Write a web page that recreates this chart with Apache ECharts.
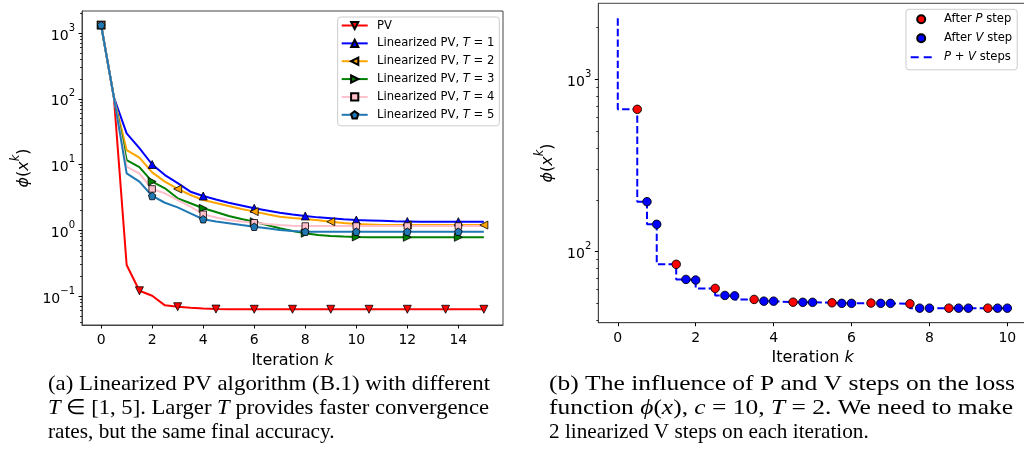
<!DOCTYPE html>
<html><head><meta charset="utf-8">
<script src="https://cdn.jsdelivr.net/npm/echarts@6/dist/echarts.min.js"></script>
<style>html,body{margin:0;padding:0;background:#fff}#c{width:1024px;height:459px}</style>
</head><body><div id="c"></div>
<script>
// ---------- data: left panel (iteration k, half steps) ----------
const iterations = [0,0.5,1,1.5,2,2.5,3,3.5,4,4.5,5,5.5,6,6.5,7,7.5,8,8.5,9,9.5,10,10.5,11,11.5,12,12.5,13,13.5,14,14.5,15];
const pvLoss = [1320,105,0.296,0.12,0.101,0.072,0.0687,0.0664,0.0645,0.0632,0.0628,0.0628,0.0628,0.0628,0.0628,0.0628,0.0628,0.0628,0.0628,0.0628,0.0628,0.0628,0.0628,0.0628,0.0628,0.0628,0.0628,0.0628,0.0628,0.0628,0.0628];
const linT1 = [1320,105,29.8,17.8,10.0,6.9,5.2,3.86,3.32,2.94,2.62,2.38,2.16,2.0,1.85,1.74,1.65,1.57,1.52,1.47,1.43,1.41,1.39,1.37,1.36,1.35,1.35,1.35,1.35,1.35,1.35];
const linT2 = [1320,105,16.6,12.7,7.6,5.5,4.25,3.44,2.88,2.6,2.34,2.1,1.92,1.75,1.61,1.54,1.48,1.42,1.35,1.29,1.24,1.22,1.2,1.2,1.2,1.2,1.2,1.2,1.2,1.2,1.2];
const linT3 = [1320,105,11.7,9.1,5.5,4.35,3.06,2.57,2.16,1.9,1.65,1.48,1.35,1.2,1.07,0.975,0.9,0.85,0.82,0.8,0.79,0.785,0.78,0.78,0.78,0.78,0.78,0.78,0.78,0.78,0.78];
const linT4 = [1320,105,9.27,7.3,4.25,3.65,2.88,2.28,1.75,1.56,1.43,1.36,1.30,1.24,1.2,1.17,1.16,1.16,1.16,1.16,1.16,1.16,1.16,1.16,1.16,1.16,1.16,1.16,1.16,1.16,1.16];
const linT5 = [1320,105,7.35,5.48,3.32,2.62,2.23,1.81,1.47,1.36,1.28,1.2,1.13,1.07,1.01,0.975,0.95,0.95,0.95,0.95,0.95,0.95,0.95,0.95,0.95,0.95,0.95,0.95,0.95,0.95,0.95];
const leftXTicks = [0,2,4,6,8,10,12,14];
const leftYTicks = [0.1,1,10,100,1000];
const leftYMinor = [0.04,0.05,0.06,0.07,0.08,0.09,0.2,0.3,0.4,0.5,0.6,0.7,0.8,0.9,2,3,4,5,6,7,8,9,20,30,40,50,60,70,80,90,200,300,400,500,600,700,800,900,2000];

// ---------- data: right panel ----------
const startX = 0, startLoss = 2270;
const pStepX = [0.5,1.5,2.5,3.5,4.5,5.5,6.5,7.5,8.5,9.5];
const pStepLoss = [671,84.3,61.1,52.7,50.8,50.4,50.2,49.7,46.9,46.9];
const vStep1X = [0.75,1.75,2.75,3.75,4.75,5.75,6.75,7.75,8.75,9.75];
const vStep1Loss = [195,68.9,55.6,51.5,50.7,50.0,50.0,46.9,46.9,46.9];
const vStep2X = [1,2,3,4,5,6,7,8,9,10];
const vStep2Loss = [144,68.3,55.3,51.5,50.7,50.0,50.0,46.9,46.9,46.9];
const rightXTicks = [0,2,4,6,8,10];
const rightYTicks = [100,1000];
const rightYMinor = [40,50,60,70,80,90,200,300,400,500,600,700,800,900,2000];

// ---------- styling ----------
const FONT = 'DejaVu Sans';
const PENT = 'path://M0,-1L0.951,-0.309L0.588,0.809L-0.588,0.809L-0.951,-0.309Z';
const leftDefs = [
  {name:'PV', data:pvLoss, color:'#ff0000', symbol:'triangle', rot:180, every:3, size:8},
  {name:'Linearized PV, T = 1', data:linT1, color:'#0000ff', symbol:'triangle', rot:0, every:4, size:8},
  {name:'Linearized PV, T = 2', data:linT2, color:'#ffa500', symbol:'triangle', rot:90, every:6, size:8},
  {name:'Linearized PV, T = 3', data:linT3, color:'#008000', symbol:'triangle', rot:-90, every:4, size:8},
  {name:'Linearized PV, T = 4', data:linT4, color:'#ffc0cb', symbol:'rect', rot:0, every:4, size:6.5},
  {name:'Linearized PV, T = 5', data:linT5, color:'#1f77b4', symbol:PENT, rot:0, every:4, size:7.5}
];

function supLabel(v){
  const e = Math.round(Math.log10(v));
  return '{b|10}{s|' + (e < 0 ? '\u2212' + (-e) : e) + '}';
}
const supRich = {
  b:{fontSize:14, lineHeight:20, verticalAlign:'bottom', fontFamily:FONT, color:'#000'},
  s:{fontSize:10, lineHeight:10, verticalAlign:'top', fontFamily:FONT, color:'#000'}
};
const nameRichY = {
  a:{fontSize:16, lineHeight:22, verticalAlign:'bottom', fontFamily:FONT, color:'#000'},
  i:{fontSize:16, lineHeight:22, verticalAlign:'bottom', fontFamily:FONT, fontStyle:'italic', color:'#000'},
  s:{fontSize:11.5, lineHeight:11, verticalAlign:'top', fontFamily:FONT, fontStyle:'italic', color:'#000'}
};
const nameRichX = {
  n:{fontSize:16, fontFamily:FONT, color:'#000'},
  i:{fontSize:16, fontFamily:FONT, fontStyle:'italic', color:'#000'}
};
const SPINE = '#444';

function xAxisDef(grid, min, max, ticks){
  return {
    type:'value', gridIndex:grid, min:min, max:max,
    name:'{n|Iteration }{i|k}', nameLocation:'middle', nameGap:27,
    nameTextStyle:{rich:nameRichX},
    axisLine:{show:true, onZero:false, lineStyle:{color:SPINE, width:1}},
    axisTick:{show:true, length:3.5, lineStyle:{color:'#000', width:1}, customValues:ticks},
    axisLabel:{show:true, fontSize:14, fontFamily:FONT, color:'#000', margin:8.5, customValues:ticks},
    splitLine:{show:false}
  };
}
function yAxisMajor(grid, min, max, ticks, gap){
  return {
    type:'log', logBase:10, gridIndex:grid, position:'left', min:min, max:max,
    name:'{i|\u03d5}{a|(}{i|x}{s|k}{a|)}', nameLocation:'middle', nameGap:gap, nameRotate:90,
    nameTextStyle:{rich:nameRichY},
    axisLine:{show:true, onZero:false, lineStyle:{color:SPINE, width:1}},
    axisTick:{show:true, length:3.5, lineStyle:{color:'#000', width:1}, customValues:ticks},
    axisLabel:{show:true, margin:7, formatter:supLabel, rich:supRich, customValues:ticks},
    splitLine:{show:false}
  };
}
function yAxisMinor(grid, min, max, ticks){
  return {
    type:'log', logBase:10, gridIndex:grid, position:'left', offset:0, min:min, max:max,
    axisLine:{show:false, onZero:false},
    axisTick:{show:true, length:2, lineStyle:{color:'#000', width:0.8}, customValues:ticks},
    axisLabel:{show:false, customValues:ticks},
    splitLine:{show:false}
  };
}

const series = [];
leftDefs.forEach(d => {
  series.push({
    type:'line', name:d.name, xAxisIndex:0, yAxisIndex:0,
    data: iterations.map((x,i) => i % d.every === 0 ? {value:[x, d.data[i]]} : {value:[x, d.data[i]], symbol:'none'}),
    symbol:d.symbol, symbolSize:d.size, symbolRotate:d.rot, showSymbol:true, showAllSymbol:true,
    lineStyle:{color:d.color, width:2},
    itemStyle:{color:d.color, borderColor:'#000', borderWidth:0.8},
    emphasis:{disabled:true}, silent:true, animation:false
  });
});

const stepData = [[startX, startLoss]];
pStepX.forEach((x,i) => {
  stepData.push([x, pStepLoss[i]]);
  stepData.push([vStep1X[i], vStep1Loss[i]]);
  stepData.push([vStep2X[i], vStep2Loss[i]]);
});
const vData = [];
vStep1X.forEach((x,i) => { vData.push([x, vStep1Loss[i]]); vData.push([vStep2X[i], vStep2Loss[i]]); });

series.push({
  type:'line', name:'P + V steps', xAxisIndex:1, yAxisIndex:2, data:stepData, step:'start',
  symbol:'none', lineStyle:{color:'#0000ff', width:2, type:[7.4,3.2]}, itemStyle:{color:'#0000ff'},
  z:2, emphasis:{disabled:true}, silent:true, animation:false
});
series.push({
  type:'scatter', name:'After P step', xAxisIndex:1, yAxisIndex:2,
  data:pStepX.map((x,i) => [x, pStepLoss[i]]), symbol:'circle', symbolSize:8.5,
  itemStyle:{color:'#ff0000', borderColor:'#000', borderWidth:0.9, opacity:1},
  z:3, emphasis:{disabled:true}, silent:true, animation:false
});
series.push({
  type:'scatter', name:'After V step', xAxisIndex:1, yAxisIndex:2,
  data:vData, symbol:'circle', symbolSize:8.5,
  itemStyle:{color:'#0000ff', borderColor:'#000', borderWidth:0.9, opacity:1},
  z:3, emphasis:{disabled:true}, silent:true, animation:false
});

const LEG_FS = 11.6;
function legendFmt(name){
  return name.replace(/\b(T|P|V)\b/g, '{i|$1}');
}
const legendRich = {
  i:{fontStyle:'italic', fontSize:LEG_FS, fontFamily:FONT, color:'#000', lineHeight:13}
};

// ---------- captions ----------
const CAP_FONT = 'Liberation Serif';
const captions = [
  {text:'(a) Linearized PV algorithm (B.1) with different', x:48, y:384, w:442},
  {text:'{i|T} \u2208 [1, 5]. Larger {i|T} provides faster convergence', x:48, y:408, w:441},
  {text:'rates, but the same final accuracy.', x:48, y:432, w:null, natural:283},
  {text:'(b) The influence of P and V steps on the loss', x:549, y:384, w:466},
  {text:'function {i|\u03d5}({i|x}), {i|c} = 10, {i|T} = 2. We need to make', x:549, y:408, w:464},
  {text:'2 linearized V steps on each iteration.', x:549, y:432, w:null, natural:324}
];
const mctx = document.createElement('canvas').getContext('2d');
function measure(str, size){
  let w = 0, last = 0, m; const re = /\{i\|([^}]*)\}/g;
  while ((m = re.exec(str))) {
    mctx.font = size + 'px "' + CAP_FONT + '"'; w += mctx.measureText(str.slice(last, m.index)).width;
    mctx.font = 'italic ' + size + 'px "' + CAP_FONT + '"'; w += mctx.measureText(m[1]).width;
    last = re.lastIndex;
  }
  mctx.font = size + 'px "' + CAP_FONT + '"'; w += mctx.measureText(str.slice(last)).width;
  return w;
}
const nat = captions.filter(c => c.natural);
let capSize = 0;
nat.forEach(c => { capSize += 18 * c.natural / measure(c.text, 18); });
capSize = capSize / nat.length;
const graphics = captions.map(c => {
  const sx = c.w ? c.w / measure(c.text, capSize) : 1;
  return {
    type:'text', x:c.x, y:c.y, scaleX:sx, silent:true,
    style:{
      text:c.text, font: capSize + 'px "' + CAP_FONT + '"', fill:'#000',
      verticalAlign:'middle', align:'left',
      rich:{i:{fontStyle:'italic', fontSize:capSize, fontFamily:CAP_FONT, fill:'#000', color:'#000'}}
    }
  };
});

const option = {
  animation:false,
  backgroundColor:'#fff',
  textStyle:{fontFamily:FONT},
  grid:[
    {left:82, top:11, width:421, height:314, show:true, borderColor:SPINE, borderWidth:1, backgroundColor:'transparent', containLabel:false, outerBoundsMode:'none'},
    {left:598.3, top:3.3, width:428.5, height:319.4, show:true, borderColor:SPINE, borderWidth:1, backgroundColor:'transparent', containLabel:false, outerBoundsMode:'none'}
  ],
  xAxis:[ xAxisDef(0, -0.75, 15.75, leftXTicks), xAxisDef(1, -0.5, 10.5, rightXTicks) ],
  yAxis:[
    yAxisMajor(0, 0.0362, 2163, leftYTicks, 50),
    yAxisMinor(0, 0.0362, 2163, leftYMinor),
    yAxisMajor(1, 38.6, 2773, rightYTicks, 42),
    yAxisMinor(1, 38.6, 2773, rightYMinor)
  ],
  legend:[
    {
      data: leftDefs.map(d => d.name), orient:'vertical', left:337.7, top:17,
      itemWidth:26, itemHeight:9, itemGap:4.86, padding:[2,5,4.5,3],
      backgroundColor:'rgba(255,255,255,0.8)', borderColor:'#cccccc', borderWidth:1, borderRadius:3,
      selectedMode:false, formatter:legendFmt, symbolRotate:'inherit',
      textStyle:{fontSize:LEG_FS, fontFamily:FONT, color:'#000', lineHeight:13, padding:[0,0,0,4.3], rich:legendRich}
    },
    {
      data:['After P step','After V step',{name:'P + V steps', icon:'path://M0,0H8V2H0ZM13,0H21V2H13Z'}],
      orient:'vertical', left:906, top:9.3,
      itemWidth:21, itemHeight:8, itemGap:6, padding:[3.5,5,6,4.7],
      backgroundColor:'rgba(255,255,255,0.8)', borderColor:'#cccccc', borderWidth:1, borderRadius:3,
      selectedMode:false, formatter:legendFmt,
      textStyle:{fontSize:LEG_FS, fontFamily:FONT, color:'#000', lineHeight:13, padding:[0,0,0,7.3], rich:legendRich}
    }
  ],
  series: series,
  graphic: graphics
};
const chart = echarts.init(document.getElementById('c'), null, {renderer:'canvas'});
chart.setOption(option);
</script>
</body></html>
